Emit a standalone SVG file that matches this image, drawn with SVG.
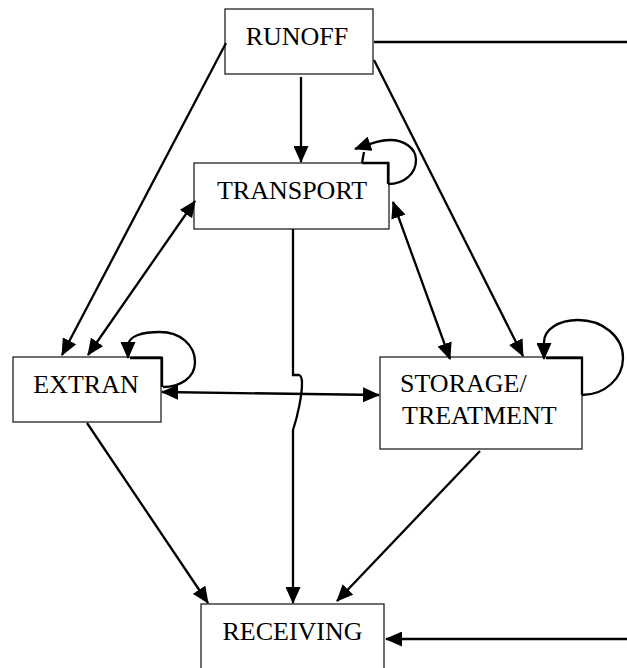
<svg xmlns="http://www.w3.org/2000/svg" width="627" height="668" viewBox="0 0 627 668">
  <defs>
    <marker id="ah" viewBox="0 0 17 15" refX="16" refY="7.5" markerUnits="userSpaceOnUse" markerWidth="17" markerHeight="15" orient="auto-start-reverse">
      <path d="M0,0 L17,7.5 L0,15 z" fill="#000"/>
    </marker>
    <style>
      .box { fill: #fff; stroke: #222; stroke-width: 1.3; }
      .lbl { font-family: "Liberation Serif", "Times New Roman", serif; font-size: 26px; fill: #000; }
      .c { fill: none; stroke: #000; stroke-width: 2.3; }
      .end { marker-end: url(#ah); }
      .both { marker-start: url(#ah); marker-end: url(#ah); }
    </style>
  </defs>
  <rect width="627" height="668" fill="#fff"/>

  <g id="node-runoff">
    <rect class="box" x="225" y="9" width="148" height="65"/>
    <text class="lbl" x="297" y="45" text-anchor="middle">RUNOFF</text>
  </g>
  <g id="node-transport">
    <rect class="box" x="194" y="163" width="195" height="66"/>
    <text class="lbl" x="292" y="199" text-anchor="middle">TRANSPORT</text>
  </g>
  <g id="node-extran">
    <rect class="box" x="13" y="357" width="148" height="65"/>
    <text class="lbl" x="86" y="393" text-anchor="middle">EXTRAN</text>
  </g>
  <g id="node-storage">
    <rect class="box" x="380" y="357" width="202" height="92"/>
    <text class="lbl" x="400" y="392">STORAGE/</text>
    <text class="lbl" x="402" y="424">TREATMENT</text>
  </g>
  <g id="node-receiving">
    <rect class="box" x="201" y="604" width="183" height="80"/>
    <text class="lbl" x="292.5" y="640" text-anchor="middle">RECEIVING</text>
  </g>

  <g id="connectors">
    <path class="c end" d="M226,43 L62,355"/>
    <path class="c end" d="M301,77 L301,162"/>
    <path class="c end" d="M374,60 L523,356"/>
    <path class="c both" d="M88,355 L195,201"/>
    <path class="c both" d="M393,202 L450,359"/>
    <path class="c both" d="M162,392 L379,395"/>
    <path class="c end" d="M293,229 L293,375 L299,375 Q302,376 302,383 C302,395 298,415 293,430 L293,603"/>
    <path class="c end" d="M87,423 L208,603"/>
    <path class="c end" d="M480,451 L337,601"/>
    <path class="c" d="M374,42 L627,42"/>
    <path class="c end" d="M627,639 L386,639"/>
    <!-- self loops -->
    <path class="c end" d="M388,184 C405,184 416,173 416,160 C416,148 404,140 390,140 C380,140 372,143 355,149"/>
    <path class="c" d="M362,163 L364,152 M362,163 H388 V184"/>
    <path class="c end" d="M163,387 C180,387 195,378 195,362 C195,345 180,332 160,332 C142,332 128,336 128,346 L128,358"/>
    <path class="c" d="M130,358 H162 V387"/>
    <path class="c end" d="M582,395 C605,395 623,378 623,358 C623,336 602,320 578,320 C558,320 544,330 544,342 L544,359"/>
    <path class="c" d="M546,358 H582 V395"/>
  </g>
</svg>
